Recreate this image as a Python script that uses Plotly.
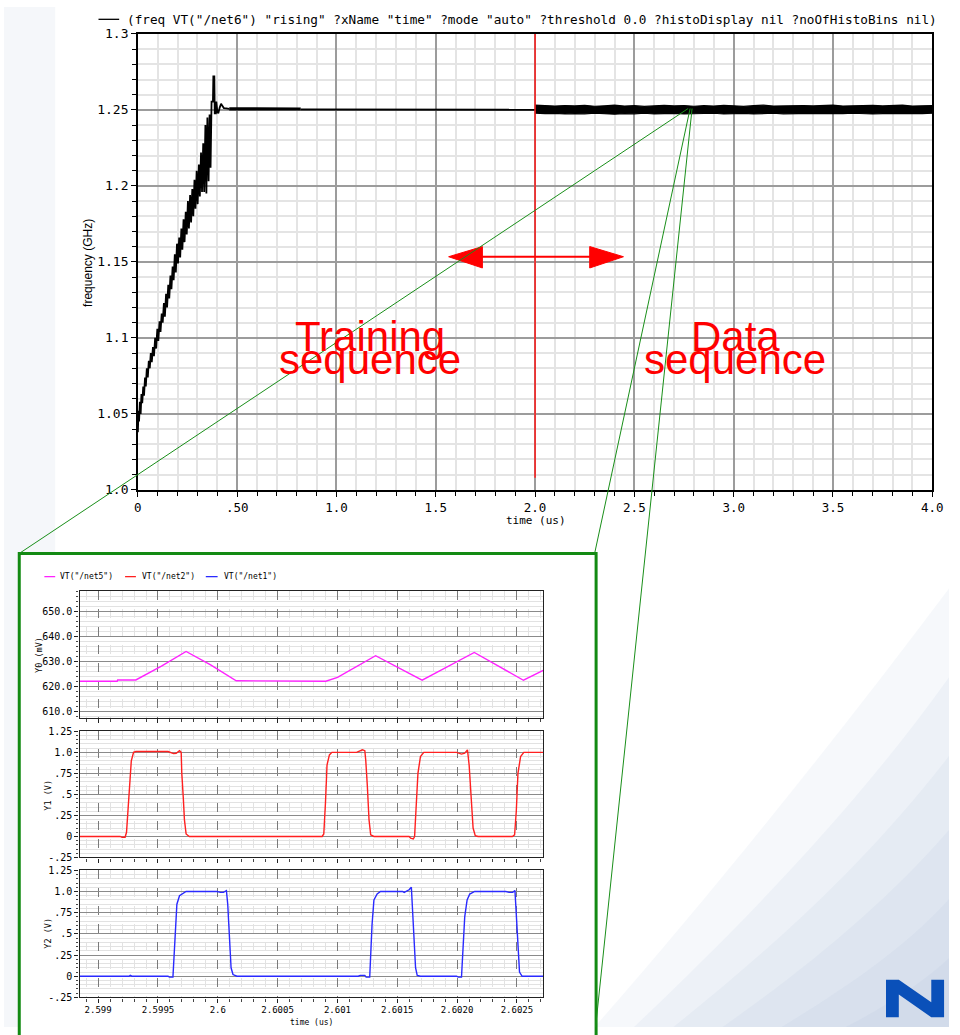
import plotly.graph_objects as go

W, H = 960, 1035


def fx(p):
    """pixel column -> paper x"""
    return p / W


def fy(p):
    """pixel row -> paper y"""
    return 1 - p / H


# ---------------- frequency of VT("/net6") in GHz vs time in us ----------------
ramp_t = [0.000, 0.003, 0.006, 0.010, 0.014, 0.018, 0.022, 0.027, 0.031, 0.036,
          0.040, 0.045, 0.050, 0.055, 0.060, 0.065, 0.070, 0.076, 0.081, 0.087,
          0.092, 0.098, 0.103, 0.109, 0.114, 0.120, 0.125, 0.131, 0.136, 0.142,
          0.147, 0.153, 0.158, 0.164, 0.169, 0.175, 0.180, 0.186, 0.191, 0.197,
          0.202, 0.208, 0.213, 0.219, 0.224, 0.230, 0.235, 0.241, 0.246, 0.252,
          0.257, 0.263, 0.268, 0.274, 0.279, 0.285, 0.290, 0.296, 0.301, 0.307,
          0.312, 0.318, 0.323, 0.329, 0.334, 0.340, 0.345, 0.350, 0.356, 0.361,
          0.366, 0.371, 0.378, 0.380, 0.385, 0.387, 0.393, 0.395, 0.400, 0.405,
          0.412, 0.419, 0.426, 0.433, 0.445, 0.460]
ramp_v = [1.038, 1.052, 1.045, 1.058, 1.050, 1.063, 1.057, 1.068, 1.062, 1.074,
          1.068, 1.080, 1.074, 1.085, 1.080, 1.090, 1.084, 1.094, 1.088, 1.100,
          1.093, 1.106, 1.098, 1.111, 1.104, 1.116, 1.110, 1.123, 1.114, 1.129,
          1.120, 1.135, 1.126, 1.141, 1.132, 1.147, 1.138, 1.155, 1.143, 1.162,
          1.149, 1.166, 1.153, 1.172, 1.158, 1.178, 1.163, 1.183, 1.168, 1.190,
          1.172, 1.194, 1.176, 1.198, 1.180, 1.204, 1.185, 1.210, 1.188, 1.214,
          1.193, 1.222, 1.196, 1.228, 1.196, 1.240, 1.195, 1.245, 1.203, 1.247,
          1.212, 1.2555, 1.2555, 1.272, 1.272, 1.2477, 1.2477, 1.2555, 1.2490, 1.2477,
          1.2515, 1.2541, 1.2525, 1.2512, 1.2510, 1.2507]

settle_t = [0.460, 0.640, 0.820]
settle_v = [1.2507, 1.2506, 1.2506]

hold_t = [0.820, 1.400, 2.000]
hold_v = [1.2502, 1.2501, 1.2501]

band_t = [2.000, 2.050, 2.100, 2.150, 2.200, 2.250, 2.300, 2.350, 2.400, 2.450,
          2.500, 2.550, 2.600, 2.650, 2.700, 2.750, 2.800, 2.850, 2.900, 2.950,
          3.000, 3.050, 3.100, 3.150, 3.200, 3.250, 3.300, 3.350, 3.400, 3.450,
          3.500, 3.550, 3.600, 3.650, 3.700, 3.750, 3.800, 3.850, 3.900, 3.950,
          4.000]
band_hi = [1.2532, 1.2528, 1.2525, 1.2529, 1.2526, 1.2530, 1.2524, 1.2527, 1.2531, 1.2525,
           1.2528, 1.2523, 1.2527, 1.2530, 1.2526, 1.2529, 1.2524, 1.2528, 1.2525, 1.2530,
           1.2527, 1.2523, 1.2528, 1.2531, 1.2525, 1.2527, 1.2524, 1.2529, 1.2526, 1.2528,
           1.2532, 1.2525, 1.2527, 1.2524, 1.2530, 1.2526, 1.2528, 1.2531, 1.2525, 1.2527,
           1.2529]
band_lo = [1.2479, 1.2475, 1.2477, 1.2473, 1.2476, 1.2474, 1.2478, 1.2475, 1.2472, 1.2476,
           1.2474, 1.2478, 1.2473, 1.2475, 1.2477, 1.2473, 1.2476, 1.2474, 1.2478, 1.2473,
           1.2475, 1.2477, 1.2473, 1.2475, 1.2478, 1.2474, 1.2476, 1.2473, 1.2477, 1.2475,
           1.2473, 1.2476, 1.2478, 1.2474, 1.2473, 1.2476, 1.2475, 1.2477, 1.2473, 1.2476,
           1.2478]

top_xticks = [0, 0.5, 1.0, 1.5, 2.0, 2.5, 3.0, 3.5, 4.0]
top_xtext = ["0", ".50", "1.0", "1.5", "2.0", "2.5", "3.0", "3.5", "4.0"]
top_yticks = [1.0, 1.05, 1.1, 1.15, 1.2, 1.25, 1.3]
top_ytext = ["1.0", "1.05", "1.1", "1.15", "1.2", "1.25", "1.3"]

# ---------------- zoomed transient: VT("/net5"), VT("/net2"), VT("/net1") ----------------
net5_t = [2.598844, 2.599159, 2.599163, 2.599315, 2.599529, 2.599735, 2.599940, 2.600154,
          2.600903, 2.600952, 2.601001, 2.601319, 2.601708, 2.602144, 2.602555, 2.602720]
net5_mv = [622.0, 622.0, 622.5, 622.5, 628.0, 633.9, 628.5, 622.2,
           622.0, 622.8, 623.5, 632.2, 622.4, 633.5, 622.4, 626.3]

net2_t = [2.598844, 2.599184, 2.599200, 2.599225, 2.599237, 2.599260, 2.599277, 2.599296,
          2.599315, 2.599584, 2.599630, 2.599652, 2.599680, 2.599694, 2.599699, 2.599712,
          2.599721, 2.599735, 2.599762, 2.600872, 2.600886, 2.600900, 2.600913, 2.600933,
          2.600954, 2.601160, 2.601182, 2.601209, 2.601229, 2.601237, 2.601250, 2.601264,
          2.601278, 2.601305, 2.601599, 2.601612, 2.601634, 2.601645, 2.601656, 2.601673,
          2.601694, 2.601722, 2.601996, 2.602037, 2.602064, 2.602087, 2.602101, 2.602114,
          2.602134, 2.602152, 2.602175, 2.602462, 2.602481, 2.602495, 2.602509, 2.602531,
          2.602558, 2.602720]
net2_v = [0.0, 0.0, -0.01, -0.01, 0.05, 0.5, 0.9, 1.0,
          1.01, 1.01, 0.985, 0.99, 1.02, 1.0, 0.75, 0.45,
          0.2, 0.03, 0.0, 0.0, 0.03, 0.4, 0.85, 0.97,
          1.0, 1.0, 1.01, 1.03, 1.02, 0.9, 0.6, 0.2,
          0.02, 0.0, 0.0, -0.02, -0.03, 0.0, 0.3, 0.75,
          0.95, 1.0, 1.0, 0.98, 0.99, 1.03, 0.85, 0.5,
          0.1, 0.01, 0.0, 0.0, 0.02, 0.3, 0.75, 0.95,
          1.0, 1.0]

net1_t = [2.598844, 2.599258, 2.599268, 2.599282, 2.599584, 2.599595, 2.599625, 2.599630,
          2.599644, 2.599658, 2.599680, 2.599707, 2.599735, 2.599995, 2.600022, 2.600047,
          2.600072, 2.600083, 2.600097, 2.600111, 2.600127, 2.600160, 2.601174, 2.601190,
          2.601229, 2.601240, 2.601270, 2.601275, 2.601289, 2.601305, 2.601332, 2.601360,
          2.601544, 2.601558, 2.601577, 2.601599, 2.601618, 2.601626, 2.601640, 2.601653,
          2.601667, 2.601694, 2.601996, 2.602010, 2.602037, 2.602051, 2.602064, 2.602084,
          2.602106, 2.602147, 2.602408, 2.602435, 2.602465, 2.602484, 2.602495, 2.602508,
          2.602522, 2.602544, 2.602720]
net1_v = [0.0, 0.0, 0.01, 0.0, 0.0, -0.01, -0.01, 0.1,
          0.5, 0.85, 0.95, 0.98, 1.0, 1.0, 0.99, 0.99,
          1.01, 0.85, 0.5, 0.1, 0.02, 0.0, 0.0, 0.01,
          0.01, -0.01, -0.01, 0.2, 0.6, 0.9, 0.97, 1.0,
          1.0, 0.99, 1.0, 1.02, 1.05, 0.8, 0.4, 0.1,
          0.01, 0.0, 0.0, -0.01, -0.01, 0.3, 0.7, 0.9,
          0.97, 1.0, 1.0, 0.99, 0.99, 1.01, 0.7, 0.3,
          0.05, 0.0, 0.0]

zoom_range = [2.598844, 2.602722]
zoom_xticks = [2.599, 2.5995, 2.6, 2.6005, 2.601, 2.6015, 2.602, 2.6025]
zoom_xtext = ["2.599", "2.5995", "2.6", "2.6005", "2.601", "2.6015", "2.6020", "2.6025"]
y0_ticks = [610, 620, 630, 640, 650]
y0_text = ["610.0", "620.0", "630.0", "640.0", "650.0"]
v_ticks = [-0.25, 0, 0.25, 0.5, 0.75, 1.0, 1.25]
v_text = ["-.25", "0", ".25", ".5", ".75", "1.0", "1.25"]

MONO = "DejaVu Sans Mono"
SANS = "Liberation Sans"

fig = go.Figure()

# main frequency plot
fig.add_trace(go.Scatter(x=ramp_t, y=ramp_v, mode="lines", line=dict(color="black", width=1.8),
                         xaxis="x", yaxis="y", showlegend=False))
fig.add_trace(go.Scatter(x=settle_t, y=settle_v, mode="lines", line=dict(color="black", width=3.2),
                         xaxis="x", yaxis="y", showlegend=False))
fig.add_trace(go.Scatter(x=hold_t, y=hold_v, mode="lines", line=dict(color="black", width=2),
                         xaxis="x", yaxis="y", showlegend=False))
fig.add_trace(go.Scatter(x=band_t, y=band_hi, mode="lines", line=dict(color="black", width=1.2),
                         xaxis="x", yaxis="y", showlegend=False))
fig.add_trace(go.Scatter(x=band_t, y=band_lo, mode="lines", line=dict(color="black", width=1.2),
                         fill="tonexty", fillcolor="black", xaxis="x", yaxis="y", showlegend=False))

# zoomed transient panels
fig.add_trace(go.Scatter(x=net5_t, y=net5_mv, mode="lines", line=dict(color="#ff22ff", width=1.4),
                         xaxis="x2", yaxis="y2", showlegend=False))
fig.add_trace(go.Scatter(x=net2_t, y=net2_v, mode="lines", line=dict(color="#ff2020", width=1.4),
                         xaxis="x3", yaxis="y3", showlegend=False))
fig.add_trace(go.Scatter(x=net1_t, y=net1_v, mode="lines", line=dict(color="#2a2aff", width=1.4),
                         xaxis="x4", yaxis="y4", showlegend=False))

top_axis_common = dict(
    showline=True, linecolor="black", linewidth=1.5, mirror=True,
    ticks="outside", ticklen=5, tickcolor="black", tickwidth=1.2,
    showgrid=True, gridcolor="#9c9c9c", gridwidth=1.5, zeroline=False,
)

zoom_x_common = dict(
    range=zoom_range, tickmode="array", tickvals=zoom_xticks, ticktext=zoom_xtext,
    showline=True, linecolor="#222", linewidth=1.3, mirror=True,
    ticks="outside", ticklen=4, tickcolor="#222", tickwidth=1,
    showgrid=True, gridcolor="#7a7a7a", gridwidth=1, griddash="dash", zeroline=False,
    minor=dict(dtick=0.0001, tick0=2.599, showgrid=True, gridcolor="#e2e2e2", gridwidth=1,
               ticks="outside", ticklen=3, tickcolor="#444"),
    tickfont=dict(family=MONO, size=9, color="black"),
    domain=[fx(76.7), fx(548)],
)

zoom_y_common = dict(
    showline=True, linecolor="#222", linewidth=1.3, mirror=True,
    ticks="outside", ticklen=4, tickcolor="#222", tickwidth=1,
    showgrid=True, gridcolor="#8a8a8a", gridwidth=1, zeroline=False,
    tickfont=dict(family=MONO, size=10, color="black"),
)

fig.update_layout(
    width=W, height=H,
    margin=dict(l=0, r=0, t=0, b=0),
    paper_bgcolor="white", plot_bgcolor="white",
    showlegend=False,
    xaxis=dict(top_axis_common, domain=[fx(136), fx(943)], range=[0, 4], anchor="y",
               tickmode="array", tickvals=top_xticks, ticktext=top_xtext,
               tickfont=dict(family=MONO, size=12.5, color="black"),
               minor=dict(dtick=0.1, showgrid=True, gridcolor="#e4e4e4", gridwidth=1.5,
                          ticks="outside", ticklen=4, tickcolor="black")),
    yaxis=dict(top_axis_common, domain=[fy(490), fy(27.3)], range=[1.0, 1.3], anchor="x",
               tickmode="array", tickvals=top_yticks, ticktext=top_ytext,
               tickfont=dict(family=MONO, size=13, color="black"),
               minor=dict(dtick=0.01, showgrid=True, gridcolor="#e4e4e4", gridwidth=1.5,
                          ticks="outside", ticklen=4, tickcolor="black")),
    xaxis2=dict(zoom_x_common, anchor="y2", showticklabels=False),
    yaxis2=dict(zoom_y_common, anchor="x2", domain=[fy(721.5), fy(592.7)], range=[607.3, 658.0],
                tickmode="array", tickvals=y0_ticks, ticktext=y0_text,
                minor=dict(dtick=2, showgrid=True, gridcolor="#e2e2e2", gridwidth=1,
                           ticks="outside", ticklen=2, tickcolor="#444")),
    xaxis3=dict(zoom_x_common, anchor="y3", showticklabels=False),
    yaxis3=dict(zoom_y_common, anchor="x3", domain=[fy(863), fy(735)], range=[-0.25, 1.25],
                tickmode="array", tickvals=v_ticks, ticktext=v_text,
                minor=dict(dtick=0.05, showgrid=True, gridcolor="#e2e2e2", gridwidth=1,
                           ticks="outside", ticklen=2, tickcolor="#444")),
    xaxis4=dict(zoom_x_common, anchor="y4"),
    yaxis4=dict(zoom_y_common, anchor="x4", domain=[fy(1005), fy(876)], range=[-0.25, 1.25],
                tickmode="array", tickvals=v_ticks, ticktext=v_text,
                minor=dict(dtick=0.05, showgrid=True, gridcolor="#e2e2e2", gridwidth=1,
                           ticks="outside", ticklen=2, tickcolor="#444")),
)

shapes = []

# slide backdrop: pale strip on the left and soft blue swooshes at the lower right
shapes.append(dict(type="rect", xref="paper", yref="paper", x0=0, x1=fx(52), y0=0, y1=1,
                   fillcolor="#f5f7fa", line=dict(width=0), layer="below"))


def ppath(points):
    pts = " L ".join(f"{fx(a):.5f},{fy(b):.5f}" for a, b in points)
    return "M " + pts + " Z"


def pcurve(start, c1, c2, end, close):
    s = f"M {fx(start[0]):.5f},{fy(start[1]):.5f} "
    s += f"C {fx(c1[0]):.5f},{fy(c1[1]):.5f} {fx(c2[0]):.5f},{fy(c2[1]):.5f} {fx(end[0]):.5f},{fy(end[1]):.5f} "
    for a, b in close:
        s += f"L {fx(a):.5f},{fy(b):.5f} "
    return s + "Z"


swooshes = [
    ((600, 1035), (710, 910), (840, 750), (960, 590)),
    ((640, 1035), (740, 940), (860, 820), (960, 680)),
    ((680, 1035), (780, 955), (875, 870), (960, 760)),
    ((730, 1035), (815, 975), (895, 910), (960, 835)),
    ((790, 1035), (855, 995), (915, 955), (960, 905)),
    ((855, 1035), (900, 1012), (935, 988), (960, 965)),
]
for a, b, c, d in swooshes:
    shapes.append(dict(type="path", xref="paper", yref="paper",
                       path=pcurve(a, b, c, d, [(960, 1035)]),
                       fillcolor="rgba(160,180,212,0.09)", line=dict(width=0), layer="below"))

# zoom-in window frame
shapes.append(dict(type="rect", xref="paper", yref="paper", x0=fx(15.5), x1=fx(601.5),
                   y0=fy(1045), y1=fy(554.5), fillcolor="white",
                   line=dict(color="#138a13", width=3), layer="below"))

# legend stroke of the main plot
shapes.append(dict(type="line", xref="paper", yref="paper", x0=fx(96), x1=fx(117),
                   y0=fy(12.5), y1=fy(12.5), line=dict(color="black", width=1.3)))

# legend strokes of the zoomed panels
for (a, b), col in [((41, 52), "#ff22ff"), ((123, 134), "#ff2020"), ((205, 217), "#2a2aff")]:
    shapes.append(dict(type="line", xref="paper", yref="paper", x0=fx(a), x1=fx(b),
                       y0=fy(578), y1=fy(578), line=dict(color=col, width=1.3)))

# boundary between training and data sequence
shapes.append(dict(type="line", xref="x", yref="y", x0=2.0, x1=2.0, y0=1.008, y1=1.3,
                   line=dict(color="#ff1a1a", width=1.5), layer="above"))

# double-headed arrow
shapes.append(dict(type="line", xref="x", yref="y", x0=1.70, x1=2.31, y0=1.1534, y1=1.1534,
                   line=dict(color="#ff0000", width=2), layer="above"))
shapes.append(dict(type="path", xref="x", yref="y",
                   path="M 1.5648,1.1534 L 1.7348,1.1601 L 1.7348,1.1460 Z",
                   fillcolor="#ff0000", line=dict(color="#ff0000", width=1), layer="above"))
shapes.append(dict(type="path", xref="x", yref="y",
                   path="M 2.4451,1.1534 L 2.2751,1.1601 L 2.2751,1.1460 Z",
                   fillcolor="#ff0000", line=dict(color="#ff0000", width=1), layer="above"))

# zoom guide lines from the data sequence down to the window corners
for (a, b), (c, d) in [((695, 103), (15.5, 554.5)), ((697, 103), (600, 554.5)),
                       ((699, 103), (601, 1035))]:
    shapes.append(dict(type="line", xref="paper", yref="paper", x0=fx(a), y0=fy(b),
                       x1=fx(c), y1=fy(d), line=dict(color="#1a8f1a", width=1), layer="above"))

# corner logo
shapes.append(dict(type="path", xref="paper", yref="paper",
                   path=ppath([(896, 1025), (896, 987), (909, 987), (942, 1010), (942, 987),
                               (955, 987), (955, 1025), (942, 1025), (909, 1002), (909, 1025)]),
                   fillcolor="#0a50b9", line=dict(width=0), layer="above"))

fig.update_layout(shapes=shapes)

ann = []


def text(x, y, s, size, family=MONO, color="black", xanchor="center", angle=0, yanchor="middle"):
    ann.append(dict(x=fx(x), y=fy(y), xref="paper", yref="paper", text=s, showarrow=False,
                    xanchor=xanchor, yanchor=yanchor, textangle=angle,
                    font=dict(family=family, size=size, color=color)))


text(123, 13, '(freq VT("/net6") "rising" ?xName "time" ?mode "auto" ?threshold 0.0 '
              '?histoDisplay nil ?noOfHistoBins nil)', 12.7, xanchor="left")
text(86, 260, "frequency (GHz)", 12, family=SANS, angle=-90)
text(540, 521, "time (us)", 11)

text(372, 334, "Training", 42, family=SANS, color="#ff0000")
text(372, 358, "sequence", 42, family=SANS, color="#ff0000")
text(743, 334, "Data", 42, family=SANS, color="#ff0000")
text(743, 358, "sequence", 42, family=SANS, color="#ff0000")

text(55, 578, 'VT("/net5")', 8, xanchor="left")
text(138, 578, 'VT("/net2")', 8, xanchor="left")
text(221, 578, 'VT("/net1")', 8, xanchor="left")

text(36, 657, "Y0 (mV)", 8.5, angle=-90)
text(45, 800, "Y1 (V)", 8.5, angle=-90)
text(45, 940, "Y2 (V)", 8.5, angle=-90)
text(312, 1030, "time (us)", 8)

fig.update_layout(annotations=ann)

fig.write_html("out.html")
